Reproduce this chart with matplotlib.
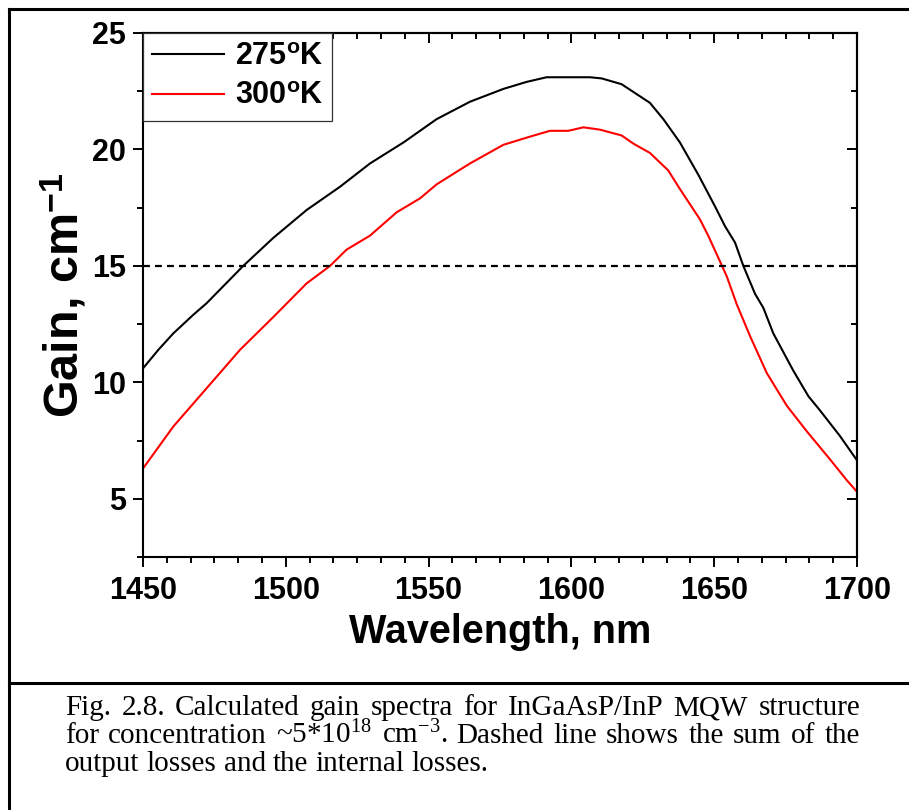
import matplotlib
matplotlib.use('Agg')
import matplotlib.pyplot as plt
from matplotlib.ticker import MultipleLocator
from matplotlib.lines import Line2D

plt.rcParams['font.family'] = ['Liberation Sans', 'DejaVu Sans']
plt.rcParams['mathtext.fontset'] = 'custom'
plt.rcParams['mathtext.rm'] = 'Liberation Serif'
plt.rcParams['mathtext.it'] = 'Liberation Serif:italic'
plt.rcParams['mathtext.bf'] = 'Liberation Sans:bold'

# ---------------- data ----------------
wl_275 = [1450, 1455.4, 1460.6, 1467.6, 1472.3, 1478.7, 1485.1, 1495.6, 1507.3,
          1519, 1529.5, 1541.2, 1552.8, 1564.5, 1576.2, 1584.3, 1591.3, 1606.5,
          1610.6, 1617.6, 1627.5, 1632.2, 1638, 1644.5, 1650.3, 1653.8, 1657.3,
          1660.2, 1664.3, 1667.2, 1670.7, 1677.7, 1683, 1687, 1694, 1700]
gain_275 = [10.6, 11.4, 12.1, 12.9, 13.4, 14.2, 15.0, 16.2, 17.4,
            18.4, 19.4, 20.3, 21.3, 22.05, 22.6, 22.9, 23.1, 23.1,
            23.05, 22.8, 22.0, 21.3, 20.3, 18.9, 17.55, 16.7, 16.0,
            15.0, 13.8, 13.2, 12.1, 10.5, 9.4, 8.8, 7.7, 6.65]

wl_300 = [1450, 1460.6, 1472.3, 1484, 1495.6, 1507.3, 1515.5, 1521.3, 1529.5,
          1538.8, 1547, 1552.8, 1564.5, 1576.2, 1585.5, 1592.5, 1598.9, 1604.2,
          1610, 1617.6, 1621.7, 1627.5, 1633.9, 1638, 1645, 1647.9, 1652,
          1654.4, 1657.9, 1662.5, 1668.4, 1675.4, 1682.4, 1690.5, 1696.4, 1700]
gain_300 = [6.3, 8.1, 9.75, 11.4, 12.8, 14.25, 15.0, 15.7, 16.3,
            17.3, 17.9, 18.5, 19.4, 20.2, 20.55, 20.8, 20.8, 20.95,
            20.85, 20.6, 20.25, 19.85, 19.1, 18.3, 17.0, 16.3, 15.2,
            14.55, 13.35, 12.0, 10.4, 9.0, 7.9, 6.7, 5.8, 5.3]

loss_level = 15
series_labels = [r"275$^{\mathbf{o}}$K", r"300$^{\mathbf{o}}$K"]
x_ticks = [1450, 1500, 1550, 1600, 1650, 1700]
y_ticks = [5, 10, 15, 20, 25]
x_label = "Wavelength, nm"
y_label = r"Gain, cm$^{\mathbf{-1}}$"
caption_lines = [
    ("Fig. 2.8. Calculated gain spectra for InGaAsP/InP MQW structure", True),
    (r"for concentration ~5*10$^{18}$ cm$^{-3}$. Dashed line shows the sum of the", True),
    ("output losses and the internal losses.", False),
]

# ---------------- figure ----------------
W, H = 909, 810
fig = plt.figure(figsize=(W / 100, H / 100), dpi=100)
ax = fig.add_axes([143 / W, 1 - 557 / H, (857 - 143) / W, (557 - 33) / H])

ax.plot(wl_275, gain_275, color='black', lw=1.5, label=series_labels[0])
ax.plot(wl_300, gain_300, color='#ff0000', lw=1.5, label=series_labels[1])
ax.axhline(loss_level, color='black', lw=1.6, dashes=(3.1, 2.3))

ax.set_xlim(1450, 1700)
ax.set_ylim(2.5, 25)
ax.set_xticks(x_ticks)
ax.set_yticks(y_ticks)
ax.xaxis.set_minor_locator(MultipleLocator(50 / 6))
ax.yaxis.set_minor_locator(MultipleLocator(2.5))

for sp in ax.spines.values():
    sp.set_linewidth(1.5)

ax.tick_params(which='major', direction='out', length=7.5, width=1.4,
               labelsize=22)
ax.tick_params(which='minor', direction='out', length=4.3, width=1.4)
ax.tick_params(axis='x', which='major', pad=6.5)
ax.tick_params(axis='y', which='major', pad=4.5)
for lbl in ax.get_xticklabels() + ax.get_yticklabels():
    lbl.set_fontweight('bold')

# top / right inward ticks
sx = ax.secondary_xaxis('top')
sx.set_xticks(x_ticks)
sx.xaxis.set_minor_locator(MultipleLocator(50 / 6))
sx.tick_params(which='major', direction='in', length=7.5, width=1.4, labeltop=False)
sx.tick_params(which='minor', direction='in', length=4.3, width=1.4)
sx.spines['top'].set_linewidth(1.5)
sy = ax.secondary_yaxis('right')
sy.set_yticks(y_ticks)
sy.yaxis.set_minor_locator(MultipleLocator(2.5))
sy.tick_params(which='major', direction='in', length=7.5, width=1.4, labelright=False)
sy.tick_params(which='minor', direction='in', length=4.3, width=1.4)
sy.spines['right'].set_linewidth(1.5)

ax.set_xlabel(x_label, fontsize=28.5, fontweight='bold', labelpad=5)
ax.set_ylabel(y_label, fontsize=35, fontweight='bold', labelpad=3)

leg = ax.legend(loc='upper left', bbox_to_anchor=(0, 1), borderaxespad=0,
                fancybox=False, edgecolor='#333333', framealpha=1,
                prop={'family': 'Liberation Sans', 'weight': 'bold', 'size': 22},
                handlelength=2.35, handletextpad=0.35, labelspacing=0.3,
                borderpad=0.3)
leg.get_frame().set_linewidth(0.9)

# outer frame lines
lw_frame = 2.2
fig.add_artist(Line2D([9 / W, 1], [1 - 9 / H, 1 - 9 / H], color='black', lw=lw_frame))
fig.add_artist(Line2D([9 / W, 9 / W], [0, 1 - 9 / H], color='black', lw=lw_frame))
fig.add_artist(Line2D([9 / W, 1], [1 - 683 / H, 1 - 683 / H], color='black', lw=lw_frame))

# caption (justified)
fig.canvas.draw()
r = fig.canvas.get_renderer()
cap_size = 21
x0, x1 = 65, 860
baselines = [715, 743, 771]
sp_a = fig.text(0, 0, "x x", fontsize=cap_size, family='Liberation Serif')
sp_b = fig.text(0, 0, "xx", fontsize=cap_size, family='Liberation Serif')
space_w = sp_a.get_window_extent(r).width - sp_b.get_window_extent(r).width
sp_a.remove(); sp_b.remove()
for (line, justify), base in zip(caption_lines, baselines):
    words = line.split(' ')
    texts = [fig.text(0, 1 - base / H, w, fontsize=cap_size,
                      family='Liberation Serif', va='baseline', ha='left')
             for w in words]
    widths = [t.get_window_extent(r).width for t in texts]
    gap = (x1 - x0 - sum(widths)) / (len(words) - 1) if justify else space_w
    x = x0
    for t, w in zip(texts, widths):
        t.set_x(x / W)
        x += w + gap

fig.savefig('out.png', dpi=100)
